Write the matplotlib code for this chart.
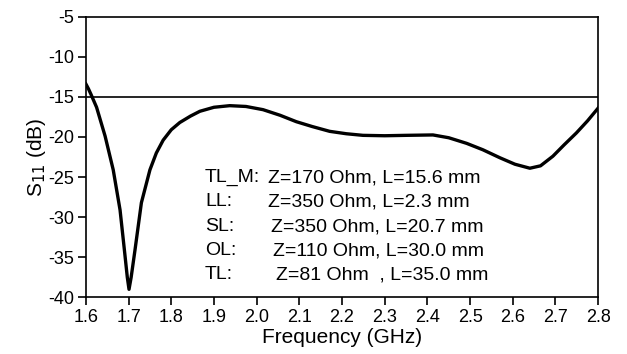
import matplotlib
matplotlib.use("Agg")
import matplotlib.pyplot as plt

plt.rcParams["font.family"] = ["Liberation Sans", "DejaVu Sans"]
plt.rcParams["axes.unicode_minus"] = False

# simulated return loss of the matched line network
freq_ghz = [1.600, 1.606, 1.612, 1.625, 1.645, 1.664, 1.680, 1.691, 1.697,
            1.701, 1.706, 1.715, 1.730, 1.750, 1.765, 1.781, 1.800, 1.820,
            1.845, 1.867, 1.900, 1.937, 1.975, 2.015, 2.055, 2.093, 2.130,
            2.171, 2.210, 2.249, 2.300, 2.350, 2.413, 2.450, 2.492, 2.530,
            2.570, 2.605, 2.640, 2.665, 2.694, 2.720, 2.749, 2.775, 2.800]
s11_db = [-13.4, -14.0, -14.7, -16.3, -19.9, -24.1, -29.1, -34.5, -37.5,
          -39.0, -37.5, -34.1, -28.2, -24.1, -22.0, -20.4, -19.1, -18.2,
          -17.4, -16.8, -16.3, -16.1, -16.2, -16.6, -17.3, -18.1, -18.7,
          -19.3, -19.6, -19.8, -19.85, -19.8, -19.75, -20.1, -20.8, -21.6,
          -22.6, -23.4, -23.9, -23.6, -22.4, -21.0, -19.5, -18.0, -16.4]

threshold_db = -15

line_names = ["TL_M:", "LL:", "SL:", "OL:", "TL:"]
line_params = ["Z=170 Ohm, L=15.6 mm",
               "Z=350 Ohm, L=2.3 mm",
               "Z=350 Ohm, L=20.7 mm",
               "Z=110 Ohm, L=30.0 mm",
               "Z=81 Ohm  , L=35.0 mm"]

fig = plt.figure(figsize=(6.27, 3.54), dpi=100)
ax = fig.add_axes([0.137, 0.160, 0.817, 0.793])

ax.plot(freq_ghz, s11_db, color="black", linewidth=2.4)
ax.axhline(threshold_db, color="black", linewidth=1.2)

ax.set_xlim(1.6, 2.8)
ax.set_ylim(-40, -5)
ax.set_xticks([1.6 + 0.1 * i for i in range(13)])
ax.set_xticklabels([f"{1.6 + 0.1 * i:.1f}" for i in range(13)])
ax.set_yticks(range(-40, -4, 5))

ax.tick_params(direction="out", length=5.5, width=1.2, labelsize=13, pad=3)
for sp in ax.spines.values():
    sp.set_linewidth(1.2)

ax.set_xlabel("Frequency (GHz)", fontsize=15, labelpad=1)
ax.set_ylabel("S$_{11}$ (dB)", fontsize=15, labelpad=0)

# transmission line parameters
row_y = [-25.1, -28.1, -31.2, -34.2, -37.2]
param_x = [2.027, 2.027, 2.033, 2.038, 2.045]
for name, params, y, px in zip(line_names, line_params, row_y, param_x):
    ax.text(1.879, y, name, fontsize=14, va="center", ha="left")
    ax.text(px, y, params, fontsize=14, va="center", ha="left")

fig.savefig("out.png", dpi=100)
